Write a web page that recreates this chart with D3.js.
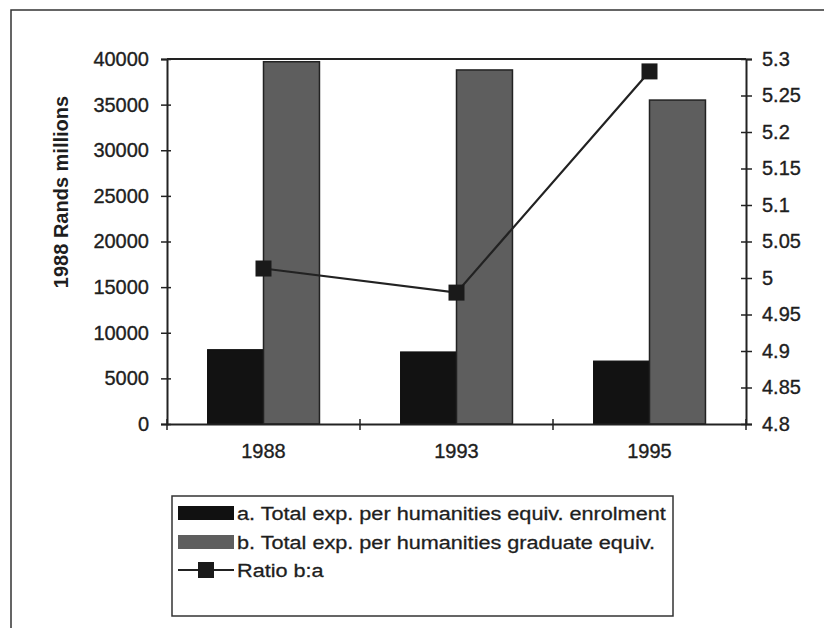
<!DOCTYPE html>
<html>
<head>
<meta charset="utf-8">
<script src="https://cdn.jsdelivr.net/npm/d3@7"></script>
<style>
  body { margin: 0; background: #fff; }
  text { font-family: "Liberation Sans", Arial, sans-serif; fill: #1e1e1e; }
</style>
</head>
<body>
<svg id="chart" width="824" height="628"></svg>
<script>
// data
let years = ["1988", "1993", "1995"]
let enrolment = [8150, 7900, 6900]      // a. per humanities equiv. enrolment
let graduate = [39700, 38800, 35500]    // b. per humanities graduate equiv.
let ratio = [5.013, 4.98, 5.283]        // ratio b:a (right axis)
let leftTicks = [0, 5000, 10000, 15000, 20000, 25000, 30000, 35000, 40000]
let rightTicks = [4.8, 4.85, 4.9, 4.95, 5, 5.05, 5.1, 5.15, 5.2, 5.25, 5.3]
let seriesNames = ["a. Total exp. per humanities equiv. enrolment",
                   "b. Total exp. per humanities graduate equiv.",
                   "Ratio b:a"]

let svg = d3.select("#chart")

//plot area
let plotLeft = 167, plotRight = 746, plotTop = 59, plotBottom = 424
let fontTick = "20px"

// outer frame (only left and top edge visible in the scan)
svg.append("rect")
    .attr("x", 11).attr("y", 10)
    .attr("width", 840).attr("height", 660)
    .attr("fill", "#fff")
    .attr("stroke", "#333").attr("stroke-width", 1.5)

// scales
let x = d3.scaleBand().domain(years).range([plotLeft, plotRight])
let groupW = x.bandwidth() * 0.58
let xSub = d3.scaleBand().domain(["a", "b"]).range([0, groupW])
let yL = d3.scaleLinear().domain([0, 40000]).range([plotBottom, plotTop])
let yR = d3.scaleLinear().domain([4.8, 5.3]).range([plotBottom, plotTop])

// bars
let g = svg.append("g")
years.forEach((yr, i) => {
    let x0 = x(yr) + (x.bandwidth() - groupW) / 2
    g.append("rect")
        .attr("x", x0 + xSub("a"))
        .attr("y", yL(enrolment[i]))
        .attr("width", xSub.bandwidth())
        .attr("height", yL(0) - yL(enrolment[i]))
        .attr("fill", "#121212")
        .attr("stroke", "#111").attr("stroke-width", 1)
    g.append("rect")
        .attr("x", x0 + xSub("b"))
        .attr("y", yL(graduate[i]))
        .attr("width", xSub.bandwidth())
        .attr("height", yL(0) - yL(graduate[i]))
        .attr("fill", "#5e5e5e")
        .attr("stroke", "#222").attr("stroke-width", 1.5)
})

// top edge of plot area
svg.append("line")
    .attr("x1", plotLeft).attr("x2", plotRight)
    .attr("y1", plotTop).attr("y2", plotTop)
    .attr("stroke", "#222").attr("stroke-width", 2)

// left axis
let gL = svg.append("g").attr("transform", "translate(" + plotLeft + ",0)")
d3.axisLeft(yL).tickValues(leftTicks).tickFormat(d3.format("d")).tickSize(6).tickPadding(12)(gL)
gL.selectAll(".tick line").attr("x1", 4)

// right axis
let gR = svg.append("g").attr("transform", "translate(" + plotRight + ",0)")
d3.axisRight(yR).tickValues(rightTicks)
    .tickFormat(d => String(+d.toFixed(2)))
    .tickSize(6).tickPadding(10)(gR)
gR.selectAll(".tick line").attr("x1", -5)

// bottom axis
let gB = svg.append("g").attr("transform", "translate(0," + plotBottom + ")")
d3.axisBottom(x).tickSize(0).tickPadding(20)(gB)
let bounds = years.map(d => x(d)).concat([plotRight])
gB.selectAll(".bound").data(bounds).join("line")
    .attr("class", "bound")
    .attr("x1", d => d).attr("x2", d => d)
    .attr("y1", -5).attr("y2", 6)
    .attr("stroke", "#222").attr("stroke-width", 1.5)

svg.selectAll(".domain").attr("stroke", "#222").attr("stroke-width", 2)
svg.selectAll(".tick line").attr("stroke", "#222").attr("stroke-width", 1.5)
svg.selectAll(".tick text")
    .attr("fill", "#1e1e1e")
    .style("font-size", fontTick)
    .style("font-family", "Liberation Sans, Arial")
    .style("stroke", "#1e1e1e").style("stroke-width", 0.35)

// y axis title
svg.append("text")
    .attr("transform", "translate(68,192) rotate(-90)")
    .attr("text-anchor", "middle")
    .style("font-size", "20px").style("font-weight", "bold")
    .text("1988 Rands millions")

// ratio line
let line = d3.line()
    .x((d, i) => x(years[i]) + x.bandwidth() / 2)
    .y(d => yR(d))
svg.append("path")
    .datum(ratio)
    .attr("d", line)
    .attr("fill", "none")
    .attr("stroke", "#222").attr("stroke-width", 2.2)
svg.selectAll(".mk").data(ratio).join("rect")
    .attr("class", "mk")
    .attr("x", (d, i) => x(years[i]) + x.bandwidth() / 2 - 8)
    .attr("y", d => yR(d) - 8)
    .attr("width", 16).attr("height", 16)
    .attr("fill", "#1a1a1a")

// legend
let lg = svg.append("g")
lg.append("rect")
    .attr("x", 172).attr("y", 496)
    .attr("width", 501).attr("height", 120)
    .attr("fill", "#fff")
    .attr("stroke", "#333").attr("stroke-width", 1.5)
let rowY = [513, 542, 570]
lg.append("rect").attr("x", 178).attr("y", rowY[0] - 7).attr("width", 56).attr("height", 14).attr("fill", "#111")
lg.append("rect").attr("x", 178).attr("y", rowY[1] - 7).attr("width", 56).attr("height", 14).attr("fill", "#5e5e5e")
lg.append("line").attr("x1", 178).attr("x2", 234).attr("y1", rowY[2]).attr("y2", rowY[2])
    .attr("stroke", "#222").attr("stroke-width", 2.2)
lg.append("rect").attr("x", 198).attr("y", rowY[2] - 8).attr("width", 16).attr("height", 16).attr("fill", "#1a1a1a")
// scan is stretched sideways, so squeeze the text the same way
lg.selectAll(".lt").data(seriesNames).join("text")
    .attr("class", "lt")
    .attr("transform", (d, i) => "translate(237," + rowY[i] + ") scale(1.14,1)")
    .attr("dy", "0.36em")
    .style("font-size", "19px")
    .style("stroke", "#1e1e1e").style("stroke-width", 0.3)
    .text(d => d)
</script>
</body>
</html>
